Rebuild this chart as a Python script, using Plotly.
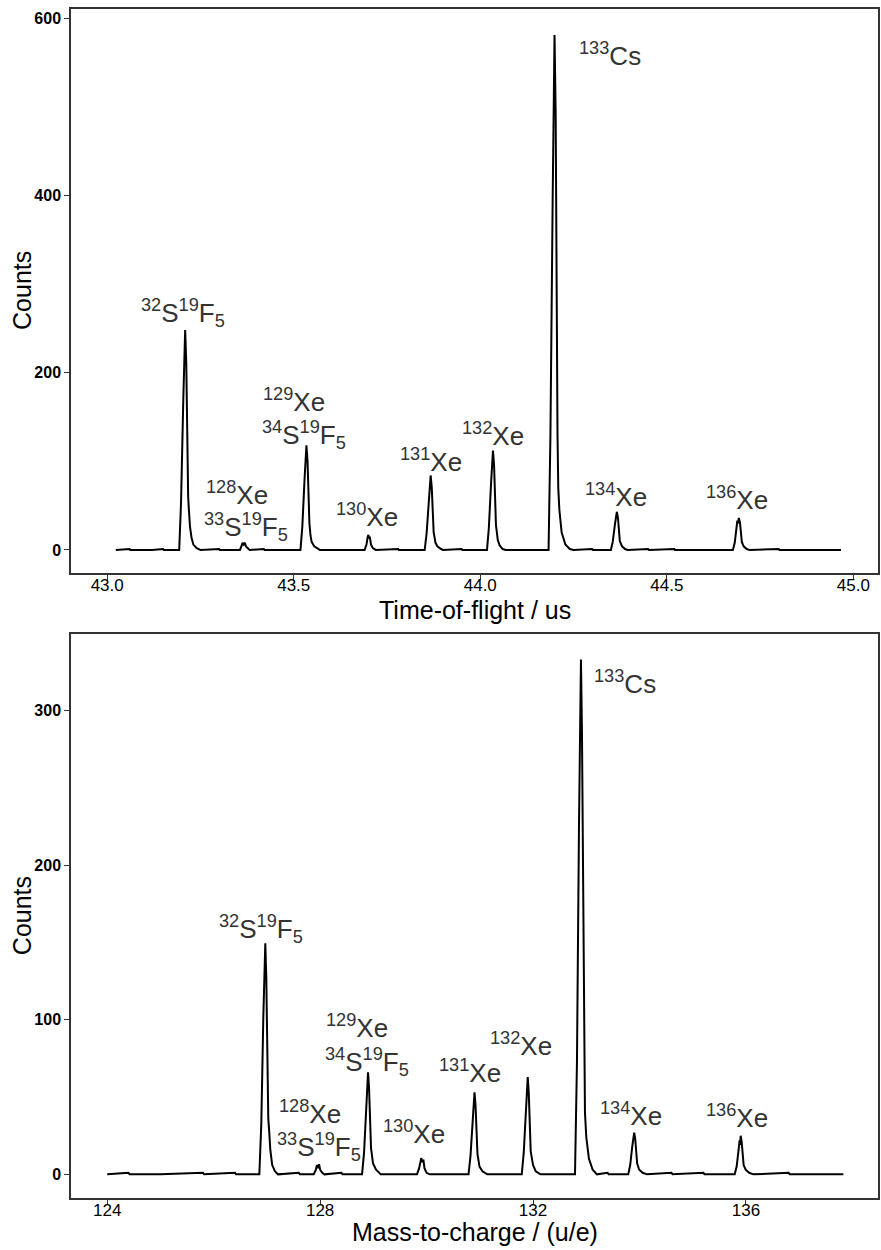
import plotly.graph_objects as go

# ---------------- data ----------------
# Top panel: time-of-flight spectrum (us, counts)
tof_us = [
    43.023, 43.060, 43.062, 43.120, 43.150, 43.152,
    43.193, 43.198, 43.204, 43.206, 43.209, 43.212, 43.214, 43.217, 43.219, 43.222, 43.226, 43.231, 43.240, 43.250,
    43.300, 43.302,
    43.356, 43.360, 43.363, 43.366, 43.369, 43.372, 43.376, 43.382,
    43.420, 43.422,
    43.518, 43.523, 43.529, 43.531, 43.534, 43.537, 43.539, 43.542, 43.545, 43.548, 43.555, 43.565, 43.570,
    43.690, 43.695, 43.698, 43.700, 43.702, 43.704, 43.707, 43.712, 43.720,
    43.780, 43.782,
    43.851, 43.856, 43.862, 43.864, 43.867, 43.870, 43.872, 43.875, 43.880, 43.885, 43.895, 43.900,
    43.950, 43.952,
    44.018, 44.023, 44.029, 44.031, 44.034, 44.037, 44.039, 44.042, 44.047, 44.052, 44.060, 44.068,
    44.183, 44.188, 44.194, 44.196, 44.199, 44.202, 44.204, 44.207, 44.209, 44.212, 44.218, 44.228, 44.240, 44.250,
    44.300, 44.302,
    44.350, 44.355, 44.361, 44.363, 44.366, 44.369, 44.371, 44.374, 44.380, 44.388, 44.395,
    44.450, 44.452, 44.520, 44.522,
    44.677, 44.682, 44.687, 44.689, 44.691, 44.693, 44.696, 44.698, 44.701, 44.706, 44.714, 44.722,
    44.800, 44.802, 44.967,
]
tof_counts = [
    0, 1, 0, 0, 1, 0,
    0, 54, 170, 218, 248, 210, 135, 60, 45, 26, 14, 6, 2, 0,
    1, 0,
    0, 4, 8, 6, 8, 4, 2, 0,
    1, 0,
    0, 26, 80, 104, 118, 100, 66, 30, 16, 9, 4, 1, 0,
    0, 6, 14, 17, 13, 15, 6, 2, 0,
    1, 0,
    0, 18, 57, 74, 84, 70, 46, 20, 8, 4, 1, 0,
    1, 0,
    0, 25, 76, 98, 112, 95, 62, 28, 11, 5, 1, 0,
    0, 128, 395, 510, 581, 495, 320, 130, 70, 45, 20, 6, 1, 0,
    1, 0,
    0, 9, 29, 38, 43, 36, 24, 10, 4, 1, 0,
    1, 0, 1, 0,
    0, 8, 27, 33, 30, 36, 31, 20, 9, 4, 1, 0,
    1, 0, 0,
]

# Bottom panel: mass-to-charge spectrum (u/e, counts)
mz = [
    124.00, 124.40, 124.42, 125.00, 125.80, 125.82, 126.40, 126.42,
    126.858, 126.895, 126.933, 126.951, 126.970, 126.989, 127.007, 127.026, 127.045, 127.064, 127.100, 127.150, 127.210,
    127.600, 127.620,
    127.88, 127.92, 127.94, 127.96, 127.98, 128.00, 128.04, 128.08,
    128.40, 128.42,
    128.788, 128.825, 128.863, 128.881, 128.900, 128.919, 128.937, 128.956, 128.994, 129.050, 129.140,
    129.82, 129.86, 129.88, 129.90, 129.92, 129.94, 129.96, 130.00, 130.06,
    130.788, 130.825, 130.863, 130.881, 130.900, 130.919, 130.937, 130.956, 130.994, 131.050, 131.140,
    131.788, 131.825, 131.863, 131.881, 131.900, 131.919, 131.937, 131.956, 131.975, 132.000, 132.050, 132.140,
    132.788, 132.825, 132.863, 132.881, 132.900, 132.919, 132.937, 132.956, 132.975, 133.000, 133.050, 133.120, 133.200,
    133.400, 133.420,
    133.788, 133.825, 133.863, 133.881, 133.900, 133.919, 133.937, 133.956, 133.994, 134.060, 134.140,
    134.60, 134.62, 135.20, 135.22,
    135.788, 135.825, 135.863, 135.881, 135.890, 135.900, 135.919, 135.937, 135.956, 135.994, 136.060, 136.140,
    136.80, 136.82, 137.83,
]
mz_counts = [
    0, 1, 0, 0, 1, 0, 1, 0,
    0, 33, 102, 132, 149.5, 127, 82, 36, 27, 16, 6, 2, 0,
    1, 0,
    0, 3, 6, 4, 6.5, 3, 1, 0,
    1, 0,
    0, 14, 45, 58, 66, 56, 37, 17, 7, 3, 0,
    0, 4, 9, 10.5, 8, 9.5, 4, 1, 0,
    0, 12, 36, 47, 53, 45, 30, 13, 5, 2, 0,
    0, 14, 43, 56, 63, 53, 35, 15, 11, 6, 2, 0,
    0, 73, 226, 293, 333, 285, 185, 75, 40, 24, 10, 3, 0,
    1, 0,
    0, 6, 18, 24, 27, 23, 15, 7, 3, 1, 0,
    1, 0, 1, 0,
    0, 5, 17, 22, 19, 25, 21, 13, 6, 3, 1, 0,
    1, 0, 0,
]

tof_ticks = [43.0, 43.5, 44.0, 44.5, 45.0]
tof_ticktext = ["43.0", "43.5", "44.0", "44.5", "45.0"]
mz_ticks = [124, 128, 132, 136]
top_yticks = [0, 200, 400, 600]
bot_yticks = [0, 100, 200, 300]

# Peak labels: (text, x, y) in data units
SUP = '<sup style="font-size:15px">%s</sup>'
SUB = '<sub style="font-size:15px">%s</sub>'
def iso(mass, el):
    return (SUP % mass) + el
def sf5(s):
    return (SUP % s) + "S" + (SUP % "19") + "F" + (SUB % "5")

top_labels = [
    (sf5("32"), 43.204, 267.6),
    (iso("128", "Xe"), 43.348, 63.4),
    (sf5("33"), 43.371, 26.2),
    (iso("129", "Xe"), 43.502, 168.9),
    (sf5("34"), 43.527, 129.4),
    (iso("130", "Xe"), 43.697, 38.6),
    (iso("131", "Xe"), 43.868, 101.2),
    (iso("132", "Xe"), 44.034, 130.5),
    (iso("133", "Cs"), 44.347, 558.6),
    (iso("134", "Xe"), 44.363, 61.1),
    (iso("136", "Xe"), 44.688, 57.8),
]
bot_labels = [
    (sf5("32"), 126.881, 159.0),
    (iso("128", "Xe"), 127.818, 40.0),
    (sf5("33"), 127.977, 18.0),
    (iso("129", "Xe"), 128.699, 95.6),
    (sf5("34"), 128.877, 72.6),
    (iso("130", "Xe"), 129.768, 27.0),
    (iso("131", "Xe"), 130.817, 66.5),
    (iso("132", "Xe"), 131.773, 84.0),
    (iso("133", "Cs"), 133.723, 318.1),
    (iso("134", "Xe"), 133.835, 38.7),
    (iso("136", "Xe"), 135.831, 37.7),
]

# ---------------- figure ----------------
FONT = "Liberation Sans, Arial, sans-serif"
fig = go.Figure()
fig.add_trace(go.Scatter(x=tof_us, y=tof_counts, mode="lines",
                         line=dict(color="black", width=2), xaxis="x", yaxis="y",
                         showlegend=False, hoverinfo="skip"))
fig.add_trace(go.Scatter(x=mz, y=mz_counts, mode="lines",
                         line=dict(color="black", width=2), xaxis="x2", yaxis="y2",
                         showlegend=False, hoverinfo="skip"))

annotations = []
for txt, x, y in top_labels:
    annotations.append(dict(text=txt, x=x, y=y, xref="x", yref="y", showarrow=False,
                            xanchor="center", yanchor="middle",
                            font=dict(family=FONT, size=26, color="#333333")))
for txt, x, y in bot_labels:
    annotations.append(dict(text=txt, x=x, y=y, xref="x2", yref="y2", showarrow=False,
                            xanchor="center", yanchor="middle",
                            font=dict(family=FONT, size=26, color="#333333")))

titlefont = dict(family=FONT, size=25, color="black")
# axis titles
annotations += [
    dict(text="Time-of-flight / us", x=0.5, y=0.4945, xref="paper", yref="paper",
         showarrow=False, xanchor="center", yanchor="middle", font=titlefont),
    dict(text="Mass-to-charge / (u/e)", x=0.5, y=-0.029, xref="paper", yref="paper",
         showarrow=False, xanchor="center", yanchor="middle", font=titlefont),
    dict(text="Counts", x=-0.0605, y=0.763, xref="paper", yref="paper", textangle=-90,
         showarrow=False, xanchor="center", yanchor="middle", font=titlefont),
    dict(text="Counts", x=-0.0605, y=0.2372, xref="paper", yref="paper", textangle=-90,
         showarrow=False, xanchor="center", yanchor="middle", font=titlefont),
]

axis_common = dict(showgrid=False, zeroline=False, showline=True, mirror=True,
                   linecolor="#333333", linewidth=1.5, ticks="outside", ticklen=5,
                   tickwidth=1.2, tickcolor="#333333")
xtickfont = dict(family=FONT, size=17, color="black")
ytickfont = dict(family=FONT, size=16, color="black", weight="bold")

fig.update_layout(
    width=881, height=1250,
    margin=dict(l=71, r=1, t=9, b=52),
    paper_bgcolor="white", plot_bgcolor="white",
    annotations=annotations,
    xaxis=dict(domain=[0, 1], anchor="y", range=[42.903, 45.066],
               tickvals=tof_ticks, ticktext=tof_ticktext, tickfont=xtickfont,
               ticklabelstandoff=-9, **axis_common),
    yaxis=dict(domain=[0.5254, 1.0], anchor="x", range=[-26.4, 610.3],
               tickvals=top_yticks, tickfont=ytickfont,
               **axis_common),
    xaxis2=dict(domain=[0, 1], anchor="y2", range=[123.32, 138.48],
                tickvals=mz_ticks, tickfont=xtickfont,
                ticklabelstandoff=-9, **axis_common),
    yaxis2=dict(domain=[0, 0.4743], anchor="x2", range=[-15.3, 349.5],
                tickvals=bot_yticks, tickfont=ytickfont,
                **axis_common),
)

fig.write_html("out.html")
